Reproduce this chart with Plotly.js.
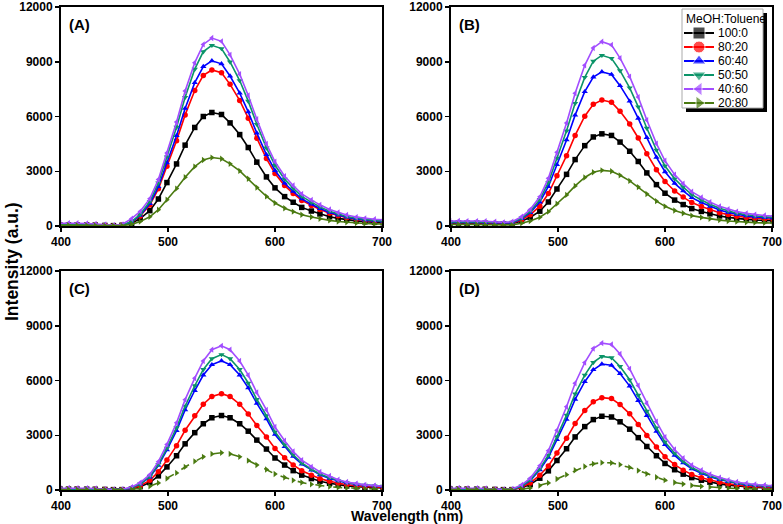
<!DOCTYPE html>
<html>
<head>
<meta charset="utf-8">
<script src="https://cdn.plot.ly/plotly-3.0.1.min.js"></script>
<style>html,body{margin:0;padding:0;background:#fff;}#chart{width:783px;height:524px;}</style>
</head>
<body>
<div id="chart"></div>
<script>
// Wavelength (nm)
const wavelength = [399,407,415,424,432,441,449,457,466,474,483,491,499,508,516,525,533,541,550,558,567,575,583,592,600,609,617,625,634,642,651,659,667,676,684,693,701];

const seriesNames = ["100:0", "80:20", "60:40", "50:50", "40:60", "20:80"];
const legendTitle = "MeOH:Toluene";

// Panel (A)
const A_100_0 = [60,60,60,55,50,30,20,40,150,400,840,1480,2380,3400,4430,5400,6000,6220,6110,5650,5010,4300,3500,2690,2090,1610,1300,1020,820,660,510,420,340,280,230,200,180];
const A_80_20 = [60,60,60,55,50,30,20,40,205,547,1154,2035,3275,4677,6088,7421,8250,8550,8396,7763,6883,5908,4814,3694,2873,2214,1787,1402,1129,906,701,564,453,368,308,265,240];
const A_60_40 = [70,70,70,65,60,35,20,45,217,579,1222,2154,3466,4950,6444,7855,8733,9050,8887,8217,7285,6254,5095,3910,3041,2344,1891,1484,1195,959,742,597,480,389,326,281,253];
const A_50_50 = [80,80,80,75,65,40,25,50,238,634,1337,2356,3792,5415,7049,8593,9554,9900,9722,8989,7970,6841,5574,4277,3326,2564,2069,1624,1307,1049,812,653,525,426,356,307,277];
const A_40_60 = [150,160,150,140,120,80,50,80,400,800,1500,2550,4000,5700,7400,8950,9950,10300,10120,9380,8320,7150,5850,4500,3520,2730,2220,1760,1430,1160,910,740,600,490,420,370,340];
const A_20_80 = [40,40,40,35,30,20,10,20,90,240,506,893,1436,2051,2670,3255,3619,3750,3683,3405,3019,2591,2111,1620,1260,971,784,615,495,398,308,248,199,161,135,116,105];

// Panel (B)
const B_100_0 = [150,160,150,150,140,120,110,130,268,464,812,1316,2027,2830,3639,4403,4879,5050,4962,4599,4095,3536,2909,2267,1796,1419,1174,954,797,669,552,473,410,361,326,302,287];
const B_80_20 = [180,190,180,180,170,150,130,150,341,610,1087,1779,2754,3856,4965,6013,6665,6900,6779,6282,5590,4824,3963,3083,2438,1920,1584,1282,1067,892,731,624,536,469,422,388,368];
const B_60_40 = [200,210,200,200,190,170,150,170,398,728,1314,2164,3360,4713,6074,7361,8161,8450,8302,7691,6841,5901,4845,3764,2972,2337,1924,1553,1289,1075,877,745,637,555,497,456,431];
const B_50_50 = [220,230,220,220,210,190,170,190,439,804,1453,2393,3717,5214,6721,8145,9030,9350,9186,8510,7570,6529,5360,4164,3288,2585,2128,1717,1425,1188,969,823,704,613,549,503,476];
const B_40_60 = [270,280,270,270,260,230,200,230,506,899,1597,2610,4035,5647,7269,8802,9756,10100,9923,9196,8183,7063,5804,4517,3573,2816,2324,1882,1568,1312,1076,919,791,693,624,575,545];
const B_20_80 = [80,90,80,80,70,60,50,60,151,270,481,787,1218,1705,2195,2658,2946,3050,2997,2777,2471,2132,1752,1363,1078,849,701,567,472,395,324,276,237,208,187,172,163];

// Panel (C)
const C_100_0 = [50,50,50,45,40,30,20,20,61,184,408,775,1265,1877,2530,3142,3631,3958,4080,3958,3631,3223,2734,2244,1754,1367,1061,816,624,481,367,286,224,180,147,126,114];
const C_80_20 = [50,50,50,45,40,30,20,20,79,238,528,1003,1637,2429,3274,4066,4699,5122,5280,5122,4699,4171,3538,2904,2270,1769,1373,1056,808,623,475,370,290,232,190,164,148];
const C_60_40 = [60,60,60,55,45,30,20,25,106,319,708,1345,2195,3257,4390,5452,6301,6868,7080,6868,6301,5593,4744,3894,3044,2372,1841,1416,1083,835,637,496,389,312,255,219,198];
const C_50_50 = [60,60,60,55,45,30,20,25,111,334,742,1410,2300,3413,4600,5713,6604,7197,7420,7197,6604,5862,4971,4081,3191,2486,1929,1484,1135,876,668,519,408,326,267,230,208];
const C_40_60 = [100,110,100,95,80,50,30,40,160,400,840,1550,2500,3680,4950,6130,7070,7690,7900,7690,7070,6290,5340,4390,3450,2700,2110,1640,1270,990,770,560,440,350,280,240,210];
const C_20_80 = [30,30,30,25,20,15,10,10,31,92,204,388,632,938,1265,1571,1816,1979,2040,1979,1816,1612,1367,1122,877,683,530,408,312,241,184,143,112,90,73,63,57];

// Panel (D)
const D_100_0 = [50,50,50,45,40,30,20,20,121,303,646,1050,1616,2262,2909,3474,3858,4040,4000,3737,3333,2868,2384,1879,1454,1111,869,679,537,428,335,267,214,174,145,125,113];
const D_80_20 = [50,50,50,45,40,30,20,20,152,380,810,1316,2024,2834,3643,4352,4832,5060,5009,4681,4175,3593,2985,2353,1822,1392,1088,850,673,536,420,334,268,218,182,157,142];
const D_60_40 = [60,60,60,55,45,30,20,25,207,518,1104,1794,2760,3864,4968,5934,6590,6900,6831,6383,5693,4899,4071,3209,2484,1898,1484,1159,918,731,573,455,366,297,248,214,193];
const D_50_50 = [60,60,60,55,45,30,20,25,220,549,1171,1903,2928,4099,5270,6295,6991,7320,7247,6771,6039,5197,4319,3404,2635,2013,1574,1230,974,776,608,483,388,315,264,227,205];
const D_40_60 = [100,110,100,95,80,50,30,60,280,640,1330,2150,3270,4560,5850,6980,7750,8050,7970,7450,6640,5720,4750,3750,2900,2220,1740,1360,1080,860,680,540,440,360,300,260,240];
const D_20_80 = [30,30,30,25,20,15,10,5,45,113,240,390,600,840,1080,1290,1433,1500,1485,1388,1238,1065,885,698,540,413,323,252,200,159,125,99,80,65,54,47,42];

const panelLabels = ["(A)", "(B)", "(C)", "(D)"];
const xTicks = [400, 500, 600, 700];
const yTicks = [0, 3000, 6000, 9000, 12000];
const yTickText = ["0", "3000", "6000", "9000", "12000"];

const panels = [
  [A_100_0, A_80_20, A_60_40, A_50_50, A_40_60, A_20_80],
  [B_100_0, B_80_20, B_60_40, B_50_50, B_40_60, B_20_80],
  [C_100_0, C_80_20, C_60_40, C_50_50, C_40_60, C_20_80],
  [D_100_0, D_80_20, D_60_40, D_50_50, D_40_60, D_20_80]
];

const colors = ["#000000", "#ff0000", "#0000ff", "#0b9468", "#a24dff", "#4a7a10"];
const symbols = ["square", "circle", "triangle-up", "triangle-down", "triangle-left", "triangle-right"];
const FONT = "Liberation Sans, Arial, sans-serif";

const W = 783, H = 524;
const xDom = [[61/W, 382/W], [451/W, 772/W], [61/W, 382/W], [451/W, 772/W]];
const yDom = [[1-226/H, 1-7/H], [1-226/H, 1-7/H], [1-490/H, 1-271/H], [1-490/H, 1-271/H]];

const traces = [];
panels.forEach((series, p) => {
  const ax = p === 0 ? "" : String(p + 1);
  series.forEach((vals, s) => {
    const dashed = (s === 5 && p >= 2);
    traces.push({
      type: "scatter", mode: "lines+markers",
      x: wavelength, y: vals,
      xaxis: "x" + ax, yaxis: "y" + ax,
      name: seriesNames[s], showlegend: false,
      line: {color: colors[s], width: 1.6, dash: dashed ? "dash" : "solid"},
      marker: {color: colors[s], symbol: symbols[s], size: 5.5},
      cliponaxis: true, hoverinfo: "skip"
    });
  });
});

// Legend drawn on its own small overlay axes (units = pixels inside the legend box)
const legendRowY = [24, 38, 52, 66, 80, 94];
seriesNames.forEach((nm, s) => {
  traces.push({
    type: "scatter", mode: "lines+markers",
    x: [1, 16, 31], y: [legendRowY[s], legendRowY[s], legendRowY[s]],
    xaxis: "x5", yaxis: "y5", showlegend: false, hoverinfo: "skip",
    line: {color: colors[s], width: 2},
    marker: {color: colors[s], symbol: symbols[s], size: [0, 12, 0]}
  });
});

const tickFont = {family: FONT, size: 12, color: "#000", weight: "bold"};
const layout = {
  width: W, height: H,
  margin: {l: 0, r: 0, t: 0, b: 0},
  paper_bgcolor: "#fff", plot_bgcolor: "rgba(0,0,0,0)",
  showlegend: false,
  annotations: [],
  shapes: [],
  xaxis5: {domain: [683/W, 763/W], range: [0, 80], anchor: "y5", visible: false, fixedrange: true},
  yaxis5: {domain: [1-108/H, 1-9/H], range: [99, 0], anchor: "x5", visible: false, fixedrange: true}
};

for (let p = 0; p < 4; p++) {
  const ax = p === 0 ? "" : String(p + 1);
  layout["xaxis" + ax] = {
    domain: xDom[p], range: [400, 700], anchor: "y" + ax,
    tickvals: xTicks, ticks: "outside", ticklen: 4, tickwidth: 1.5, tickcolor: "#000",
    showline: true, linecolor: "#000", linewidth: 2, mirror: true,
    showgrid: false, zeroline: false, tickfont: tickFont
  };
  layout["yaxis" + ax] = {
    domain: yDom[p], range: [0, 12000], anchor: "x" + ax,
    tickvals: yTicks, ticktext: yTickText, ticks: "outside", ticklen: 4, tickwidth: 1.5, tickcolor: "#000",
    showline: true, linecolor: "#000", linewidth: 2, mirror: true,
    showgrid: false, zeroline: false, tickfont: tickFont
  };
  layout.annotations.push({
    text: panelLabels[p], xref: "paper", yref: "paper",
    x: xDom[p][0] + 6/W, y: yDom[p][1] - 7/H, xanchor: "left", yanchor: "top",
    showarrow: false, font: {family: FONT, size: 15, color: "#000", weight: "bold"}
  });
}

layout.annotations.push({
  text: "Intensity (a.u.)", xref: "paper", yref: "paper",
  x: 12/W, y: 1 - 262/H, xanchor: "center", yanchor: "middle", textangle: -90, showarrow: false,
  font: {family: FONT, size: 17.5, color: "#000", weight: "bold"}
});
layout.annotations.push({
  text: "Wavelength (nm)", xref: "paper", yref: "paper",
  x: 407/W, y: 1 - 515.5/H, xanchor: "center", yanchor: "middle", showarrow: false,
  font: {family: FONT, size: 14, color: "#000", weight: "bold"}
});

// legend box, shadow, title and labels
layout.shapes.push({type: "rect", xref: "paper", yref: "paper", layer: "below",
  x0: 686/W, x1: 767/W, y0: 1 - 112/H, y1: 1 - 13/H, fillcolor: "#000", line: {width: 0}});
layout.shapes.push({type: "rect", xref: "paper", yref: "paper", layer: "below",
  x0: 682/W, x1: 763/W, y0: 1 - 108/H, y1: 1 - 9/H, fillcolor: "#fff", line: {color: "#aaa", width: 1}});
layout.annotations.push({
  text: legendTitle, xref: "x5", yref: "y5", x: 1, y: 10, xanchor: "left", yanchor: "middle",
  showarrow: false, font: {family: FONT, size: 12, color: "#000"}
});
seriesNames.forEach((nm, s) => {
  layout.annotations.push({
    text: nm, xref: "x5", yref: "y5", x: 33, y: legendRowY[s], xanchor: "left", yanchor: "middle",
    showarrow: false, font: {family: FONT, size: 12, color: "#000"}
  });
});

Plotly.newPlot("chart", traces, layout, {displayModeBar: false, staticPlot: true});
</script>
</body>
</html>
